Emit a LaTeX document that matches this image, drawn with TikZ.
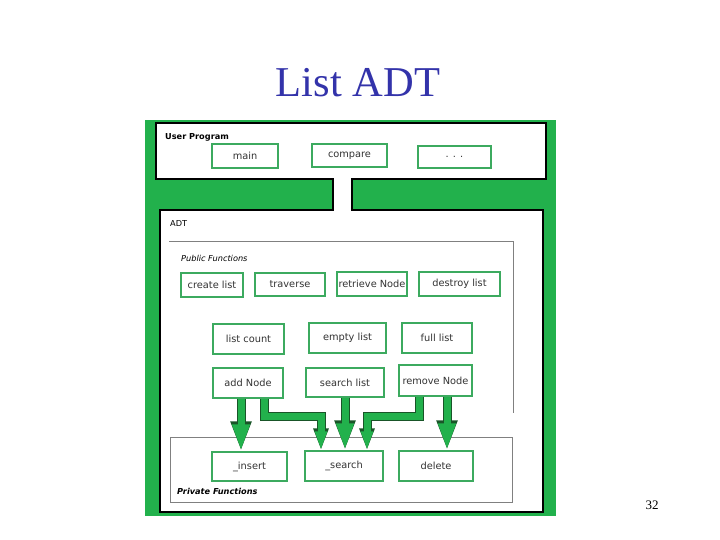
\documentclass[tikz,border=0pt]{standalone}
\usepackage{fontspec}
\setmainfont{Liberation Serif}
\newfontfamily\boxfont{DejaVu Sans}
\usetikzlibrary{arrows.meta,calc}
\definecolor{bggreen}{RGB}{34,177,76}
\definecolor{boxgreen}{RGB}{60,170,95}
\definecolor{arrowdark}{RGB}{25,85,40}
\definecolor{titleblue}{RGB}{51,51,170}
\def\lblsize{\fontsize{8.2}{9}\selectfont}

\tikzset{
  fnbox/.style 2 args={draw=boxgreen, fill=white, line width=1.3pt, inner sep=0pt,
    minimum width=#1pt, minimum height=#2pt, text=black!80,
    font=\boxfont\fontsize{9.8}{11}\selectfont},
  grouplabel/.style={anchor=west, inner sep=0pt},
  straightarr/.style={line join=miter,
    preaction={draw=arrowdark, line width=9pt, line join=miter, -{Triangle[length=30pt,width=19pt]}},
    draw=bggreen, line width=7pt, -{Triangle[length=27pt,width=16pt]}},
  elbowarr/.style={line join=miter,
    preaction={draw=arrowdark, line width=9pt, line join=miter, -{Triangle[length=22pt,width=14pt]}},
    draw=bggreen, line width=7pt, -{Triangle[length=19pt,width=11pt]}}
}

\begin{document}
\begin{tikzpicture}[x=1pt, y=-1pt]
  \useasboundingbox (0,0) rectangle (720,540);
  % title
  \node[anchor=base, inner sep=0pt, font=\fontsize{42.5}{46}\selectfont, text=titleblue] (title) at (358,97) {List ADT};
  % green panel with the two white areas
  \fill[bggreen] (145,120) rectangle (556,516);
  \draw[fill=white, line width=1.3pt] (156,123) rectangle (546,179);
  \draw[fill=white, line width=1.3pt] (160,210) rectangle (543,512);
  \draw[line width=1.2pt] (160.6,211) -- (160.6,512.6) -- (542,512.6);
  \fill[white] (333.6,177) rectangle (351.4,212);
  \draw[line width=1.3pt] (333,179) -- (333,210) (352,179) -- (352,210);
  % frames
  \draw[gray, line width=0.8pt] (169,241) -- (513,241) -- (513,413);
  \draw[gray, line width=0.8pt] (170,437) rectangle (512,502);
  % group labels
  \node[grouplabel, font=\boxfont\lblsize\bfseries] (userlbl) at (165,137) {User Program};
  \node[grouplabel, font=\boxfont\lblsize] (adtlbl) at (170,224) {ADT};
  \node[grouplabel, font=\boxfont\lblsize\itshape] (publbl) at (181,258) {Public Functions};
  \node[grouplabel, font=\boxfont\lblsize\bfseries\itshape] (privlbl) at (177,491) {Private Functions};

  % user program
  \node[fnbox={66}{24}] (main) at (245,156) {main};
  \node[fnbox={75}{23}] (compare) at (349.5,155.5) {compare};
  \node[fnbox={73}{22}] (dots) at (454.5,157) {. . .};
  % public functions
  \node[fnbox={62}{24}] (create) at (212,285) {create list};
  \node[fnbox={70}{23}] (traverse) at (290,284.5) {traverse};
  \node[fnbox={70}{24}] (retrieve) at (372,284) {retrieve Node};
  \node[fnbox={81}{24}] (destroy) at (459.5,284) {destroy list};
  \node[fnbox={71}{30}] (count) at (248.5,339) {list count};
  \node[fnbox={77}{30}] (empty) at (347.5,338) {empty list};
  \node[fnbox={70}{30}] (full) at (437,338) {full list};
  \node[fnbox={70}{30}] (addN) at (248,383) {add Node};
  \node[fnbox={78}{29}] (searchl) at (345,382.5) {search list};
  \node[fnbox={73}{31}] (removeN) at (435.5,380.5) {remove Node};
  % private functions
  \node[fnbox={75}{29}] (insert) at (249.5,466.5) {\_insert};
  \node[fnbox={78}{30}] (psearch) at (344,466) {\_search};
  \node[fnbox={74}{30}] (delete) at (436,466) {delete};

  % calls into the private functions
  \coordinate (a1) at ($(addN.south)+(-7,0)$);
  \coordinate (a2) at ($(addN.south)+(16,0)$);
  \coordinate (r1) at ($(removeN.south)+(-16.5,0)$);
  \coordinate (r2) at ($(removeN.south)+(11.5,0)$);
  \coordinate (s2) at ($(psearch.north)+(-23,0)$);
  \coordinate (s4) at ($(psearch.north)+(23,0)$);
  \draw[straightarr] (a1) -- (a1 |- insert.north);
  \draw[elbowarr] (a2) |- ($(s2)+(0,-34)$) -- (s2);
  \draw[straightarr] (searchl.south) -- (searchl.south |- psearch.north);
  \draw[elbowarr] (r1) |- ($(s4)+(0,-34)$) -- (s4);
  \draw[straightarr] (r2) -- (r2 |- delete.north);

  \node[font=\fontsize{13}{15}\selectfont] (pagenum) at (652,505) {32};
\end{tikzpicture}
\end{document}
